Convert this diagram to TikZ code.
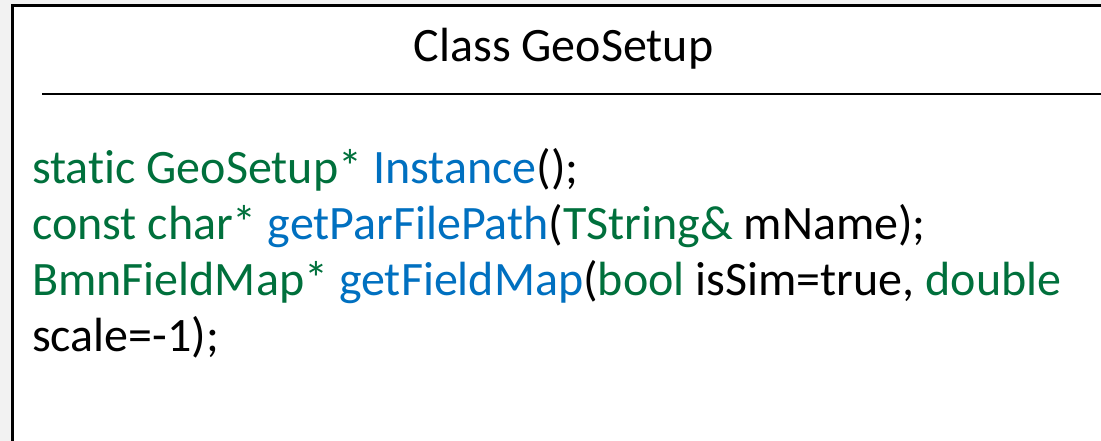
\documentclass[tikz,border=0pt]{standalone}
\usepackage{fontspec}
\setmainfont{Carlito}[Ligatures={NoCommon}]
\definecolor{kwgreen}{RGB}{0,112,60}
\definecolor{fnblue}{RGB}{0,112,192}
\definecolor{bggray}{RGB}{242,242,242}
\begin{document}
\begin{tikzpicture}[x=1pt,y=1pt,
  codeline/.style={anchor=base west,inner sep=0pt,font=\fontsize{48}{56}\selectfont},
  titletext/.style={anchor=base,inner sep=0pt,font=\fontsize{48}{56}\selectfont}]
\useasboundingbox (0,0) rectangle (1101,-441);
\fill[bggray] (0,0) rectangle (1101,-441);
\draw[line width=3pt,fill=white] (12,-5.5) rectangle (1110,-450);
\node[titletext] (title) at (563.5,-62) {Class GeoSetup};
\coordinate (sepL) at (42,-94);
\coordinate (sepR) at (1101,-94);
\draw[line width=1.5pt] (sepL) -- (sepR);
\node[codeline] (l1) at (32,-183.5) {\textcolor{kwgreen}{static GeoSetup*} \textcolor{fnblue}{Instance}();};
\node[codeline] (l2) at (32,-239.5) {\textcolor{kwgreen}{const char*} \textcolor{fnblue}{getParFilePath}(\textcolor{kwgreen}{TString\&} mName);};
\node[codeline] (l3) at (32,-295.5) {\textcolor{kwgreen}{BmnFieldMap*} \textcolor{fnblue}{getFieldMap}(\textcolor{kwgreen}{bool} isSim=true, \textcolor{kwgreen}{double}};
\node[codeline] (l4) at (32,-351) {scale=-1);};
\end{tikzpicture}
\end{document}
